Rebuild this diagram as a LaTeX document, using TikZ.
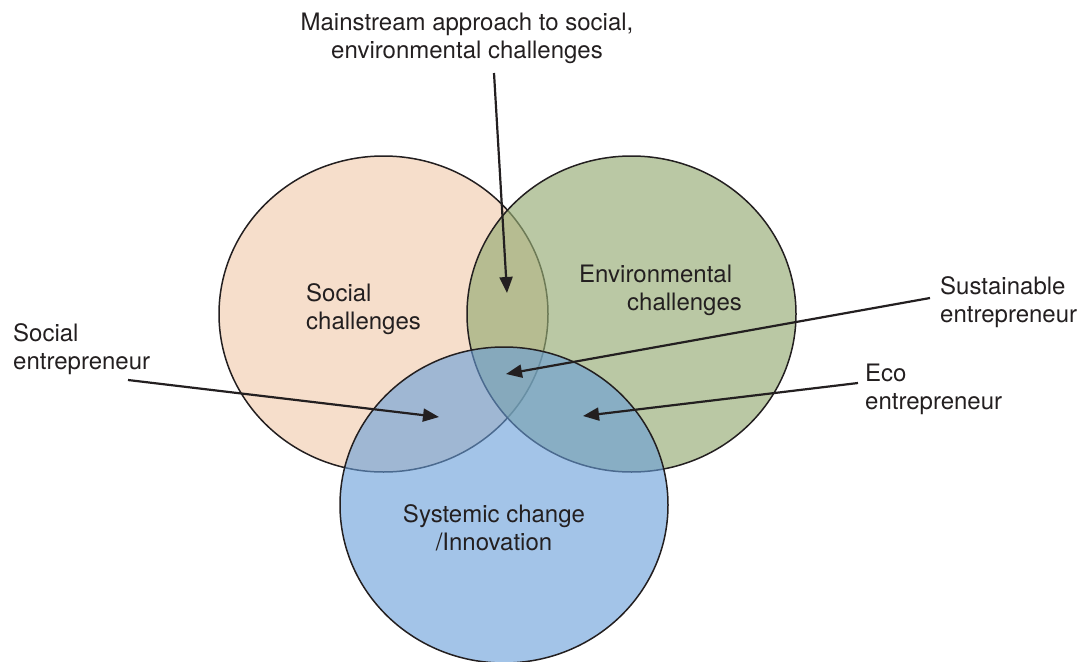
\documentclass[tikz,border=0pt]{standalone}
\usepackage{fontspec}
\setmainfont{TeX Gyre Heros}
\usetikzlibrary{arrows.meta}
\definecolor{txt}{RGB}{35,31,32}
\definecolor{socfill}{RGB}{246,222,203}
\definecolor{envfill}{RGB}{149,171,115}
\definecolor{sysfill}{RGB}{102,157,217}
\begin{document}
\begin{tikzpicture}[x=1pt,y=-1pt,
  lbl/.style={font=\fontsize{24}{28}\selectfont, text=txt, inner sep=0pt},
  arr/.style={-{Triangle[length=16pt,width=13pt]}, line width=2.2pt, draw=txt},
  ring/.style={line width=1.5pt, draw=txt}]
\useasboundingbox (0,0) rectangle (1081,661);
\draw[ring, fill=socfill] (383.5,314) ellipse [x radius=164.5pt, y radius=158pt];
\draw[ring, fill=envfill, fill opacity=0.65] (631.5,314) ellipse [x radius=164.5pt, y radius=158pt];
\draw[ring, fill=sysfill, fill opacity=0.6] (504,505) ellipse [x radius=164pt, y radius=158pt];

\node[lbl, align=center] (main) at (467,38.5) {Mainstream approach to social,\\environmental challenges};
\node[lbl, align=left, anchor=west] (soc) at (306,309.5) {Social\\challenges};
\node[lbl, align=left, anchor=west] (env) at (579,290.5) {Environmental\\\hspace*{48pt}challenges};
\node[lbl, align=center] (sys) at (494,528) {Systemic change\\/Innovation};
\node[lbl, align=left, anchor=west] (se) at (13,349.5) {Social\\entrepreneur};
\node[lbl, align=left, anchor=west] (sus) at (940,302) {Sustainable\\entrepreneur};
\node[lbl, align=left, anchor=west] (eco) at (865,389) {Eco\\entrepreneur};

\coordinate (mS) at (494,73); \coordinate (mT) at (507,293);
\coordinate (seS) at (128,380); \coordinate (seT) at (439,417);
\coordinate (suS) at (930,298); \coordinate (suT) at (506,374);
\coordinate (ecS) at (858,383); \coordinate (ecT) at (583,416);
\draw[arr] (mS) -- (mT);
\draw[arr] (seS) -- (seT);
\draw[arr] (suS) -- (suT);
\draw[arr] (ecS) -- (ecT);
\end{tikzpicture}
\end{document}
